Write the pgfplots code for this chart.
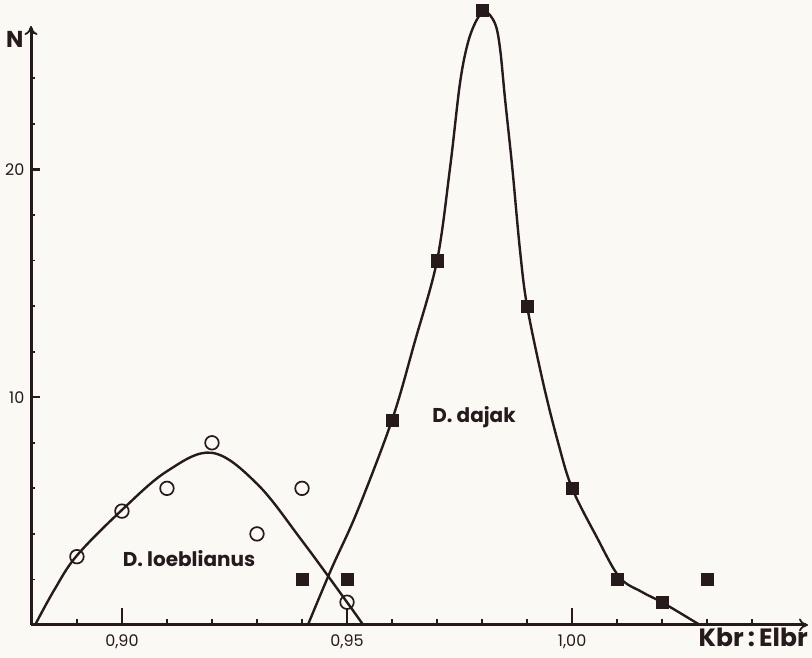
\documentclass[border=0pt]{standalone}
\usepackage{fontspec}
\setmainfont{Poppins}
\usepackage{pgfplots}
\pgfplotsset{compat=1.18}
\usetikzlibrary{arrows.meta}

\definecolor{ink}{RGB}{38,26,28}
\definecolor{paper}{RGB}{251,249,243}

\begin{document}
\begin{tikzpicture}
\fill[paper] (0,0) rectangle (812pt,658pt);
\useasboundingbox (0,0) rectangle (812pt,658pt);
\begin{axis}[
  at={(31pt,33pt)}, anchor=south west,
  scale only axis, width=777pt, height=599pt,
  xmin=0.8798, xmax=1.0524, ymin=0, ymax=26.3,
  axis lines=left,
  axis line style={draw=ink, line width=3pt, -{To[length=9pt,width=13pt,line width=1.8pt]}},
  clip=false,
  xtick={0.90,0.95,1.00},
  xticklabels={{0,90},{0,95},{1,00}},
  ytick={10,20}, yticklabels={10,20},
  xtick style={draw=none}, ytick style={draw=none},
  ticklabel style={font=\fontsize{16}{16}\selectfont, text=ink},
  xticklabel style={yshift=-4pt},
  yticklabel style={xshift=-1pt},
]
% anchor points for the x tick marks
\coordinate (xa) at (axis cs:0.90,0);
\coordinate (xb) at (axis cs:0.95,0);
\coordinate (xc) at (axis cs:1.00,0);
\coordinate (m1) at (axis cs:0.89,0);
\coordinate (m2) at (axis cs:0.91,0);
\coordinate (m3) at (axis cs:0.92,0);
\coordinate (m4) at (axis cs:0.93,0);
\coordinate (m5) at (axis cs:0.94,0);
\coordinate (m6) at (axis cs:0.96,0);
\coordinate (m7) at (axis cs:0.97,0);
\coordinate (m8) at (axis cs:0.98,0);
\coordinate (m9) at (axis cs:0.99,0);
\coordinate (m10) at (axis cs:1.01,0);
\coordinate (m11) at (axis cs:1.02,0);
\coordinate (m12) at (axis cs:1.03,0);
\coordinate (m13) at (axis cs:1.04,0);
% y tick marks: short inward strokes, every 2 units, longer at 10 and 20
\pgfplotsinvokeforeach{10,20}{
  \draw[ink, line width=2.4pt] (axis cs:0.8798,#1) -- ([xshift=9pt]axis cs:0.8798,#1);}
\pgfplotsinvokeforeach{2,4,6,8,12,14,16,18,22,24,26}{
  \draw[ink, line width=1.8pt] (axis cs:0.8798,#1) -- ([xshift=4pt]axis cs:0.8798,#1);}
% D. loeblianus: fitted curve and counts
\addplot[ink, line width=2.4pt, smooth, tension=0.6] coordinates {
  (0.8807,0) (0.885,1.55) (0.89,3.05) (0.90,5.05) (0.91,6.75)
  (0.92,7.56) (0.93,6.2) (0.94,3.7) (0.95,1.0) (0.9536,0)
};
\addplot[only marks, mark=o, mark size=6.8pt,
  mark options={ink, line width=1.7pt, fill=paper}] coordinates {
  (0.89,3) (0.90,5) (0.91,6) (0.92,8) (0.93,4) (0.94,6) (0.95,1)
};
% D. dajak: fitted curve and counts
\addplot[ink, line width=2.4pt, smooth, tension=0.55] coordinates {
  (0.9413,0) (0.9465,2.45) (0.9522,4.95) (0.96,9) (0.965,12.4)
  (0.97,16) (0.9729,20.1) (0.9751,23.8) (0.9769,25.6) (0.9789,26.6)
  (0.9807,26.95) (0.9829,26.4) (0.984,25.3) (0.9851,23.1) (0.9867,20.1)
  (0.9884,16.5) (0.99,14) (0.9936,10.6) (0.9969,8.0) (1.00,6.0)
  (1.0055,3.85) (1.0105,2.1) (1.0155,1.45) (1.0202,0.97) (1.0284,0)
};
\addplot[only marks, mark=square*, mark size=6.2pt,
  mark options={ink, fill=ink, line width=0.5pt}] coordinates {
  (0.94,2) (0.95,2) (0.96,9) (0.97,16) (0.98,27) (0.99,14)
  (1.00,6) (1.01,2) (1.02,1) (1.03,2)
};
\node[font=\fontsize{20}{20}\selectfont\bfseries, text=ink] at (axis cs:0.9149,2.9) {D. loeblianus};
\node[font=\fontsize{20}{20}\selectfont\bfseries, text=ink] at (axis cs:0.9782,9.14) {D. dajak};
\node[font=\fontsize{23}{23}\selectfont\bfseries, text=ink] at (axis cs:0.8762,25.7) {N};
\node[font=\fontsize{25}{25}\selectfont\bfseries, text=ink, anchor=base east, inner sep=0pt] at (axis cs:1.0524,-0.95) {Kbr\,:\,Elbr};
\end{axis}
% x tick marks: long at the labelled values, short every 0.01
\foreach \t in {xa,xb,xc}
  \draw[ink, line width=2.4pt] (\t) -- ++(0,17pt);
\foreach \t in {m1,m2,m3,m4,m5,m6,m7,m8,m9,m10,m11,m12,m13}
  \draw[ink, line width=1.8pt] (\t) -- ++(0,6pt);
\end{tikzpicture}
\end{document}
